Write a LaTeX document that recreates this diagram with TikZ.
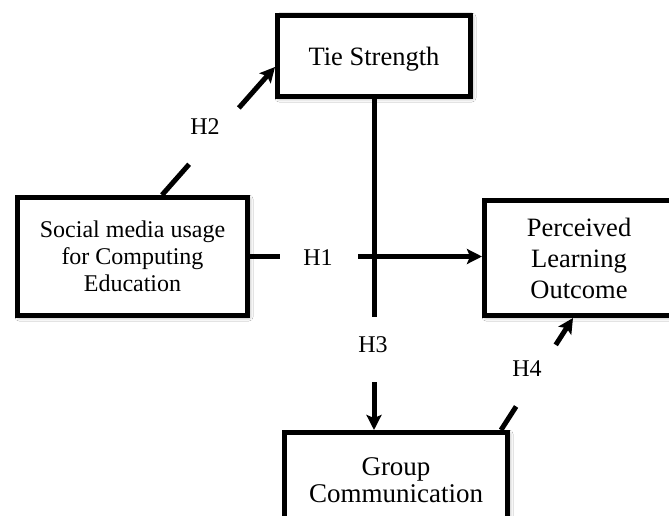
\documentclass[tikz,border=0pt]{standalone}
\usepackage{fontspec}
\setmainfont{Liberation Serif}
\usetikzlibrary{arrows.meta,calc,shadows.blur}
\begin{document}
\begin{tikzpicture}[x=1pt,y=-1pt,
  box/.style={draw=black,line width=5pt,fill=white,inner sep=0pt,align=center,
    font=\fontsize{24}{27}\selectfont,
    blur shadow={shadow xshift=1.5pt,shadow yshift=-1.5pt,shadow blur steps=6,shadow blur radius=4pt,shadow opacity=45}},
  conn/.style={line width=5pt,draw=black},
  arr/.style={conn,-{Stealth[length=15pt,width=15pt,inset=3pt]}},
  lab/.style={font=\fontsize{24}{26}\selectfont,inner sep=0pt}]
\useasboundingbox (0,0) rectangle (669,516);
\clip (0,0) rectangle (669,516);
\fill[white] (0,0) rectangle (669,516);
% boxes
\node[box,minimum width=193pt,minimum height=81pt,text depth=0pt,font=\fontsize{26.5}{28}\selectfont] (ts) at (374,56) {Tie Strength};
\node[box,minimum width=230pt,minimum height=118pt] (sm) at (132.5,256.5) {Social media usage\\for Computing\\Education};
\node[box,minimum width=189pt,minimum height=115pt,font=\fontsize{26.5}{31}\selectfont] (pl) at (579,258) {Perceived\\Learning\\Outcome};
\node[box,minimum width=223pt,minimum height=95pt,font=\fontsize{27}{27}\selectfont] (gc) at (396,480) {Group\\Communication};
% coordinates
\coordinate (h2a) at ($(sm.north west)+(147,0)$);
\coordinate (h2b) at ($(ts.west)+(0,11)$);
\coordinate (h1a) at (sm.east);
\coordinate (h1b) at (sm.east -| pl.west);
\coordinate (h3a) at (ts.south);
\coordinate (h3b) at (ts.south |- gc.north);
\coordinate (h4a) at ($(gc.north east)+(-9,0)$);
\coordinate (h4b) at ($(pl.south west)+(91,0)$);
% H2
\draw[conn] (h2a) -- ($(h2a)!0.24!(h2b)$);
\draw[arr] ($(h2a)!0.68!(h2b)$) -- (h2b);
\node[lab] (l2) at (205,127) {H2};
% H1
\draw[conn] (h1a) -- ($(h1a)!0.13!(h1b)$);
\draw[arr] ($(h1a)!0.466!(h1b)$) -- (h1b);
\node[lab] (l1) at (318,258) {H1};
% H3
\draw[conn] (h3a) -- ($(h3a)!0.66!(h3b)$);
\draw[arr] ($(h3a)!0.855!(h3b)$) -- (h3b);
\node[lab] (l3) at (373,345) {H3};
% H4
\draw[conn] (h4a) -- ($(h4a)!0.21!(h4b)$);
\draw[arr] ($(h4a)!0.76!(h4b)$) -- (h4b);
\node[lab] (l4) at (527,369) {H4};
\end{tikzpicture}
\end{document}
